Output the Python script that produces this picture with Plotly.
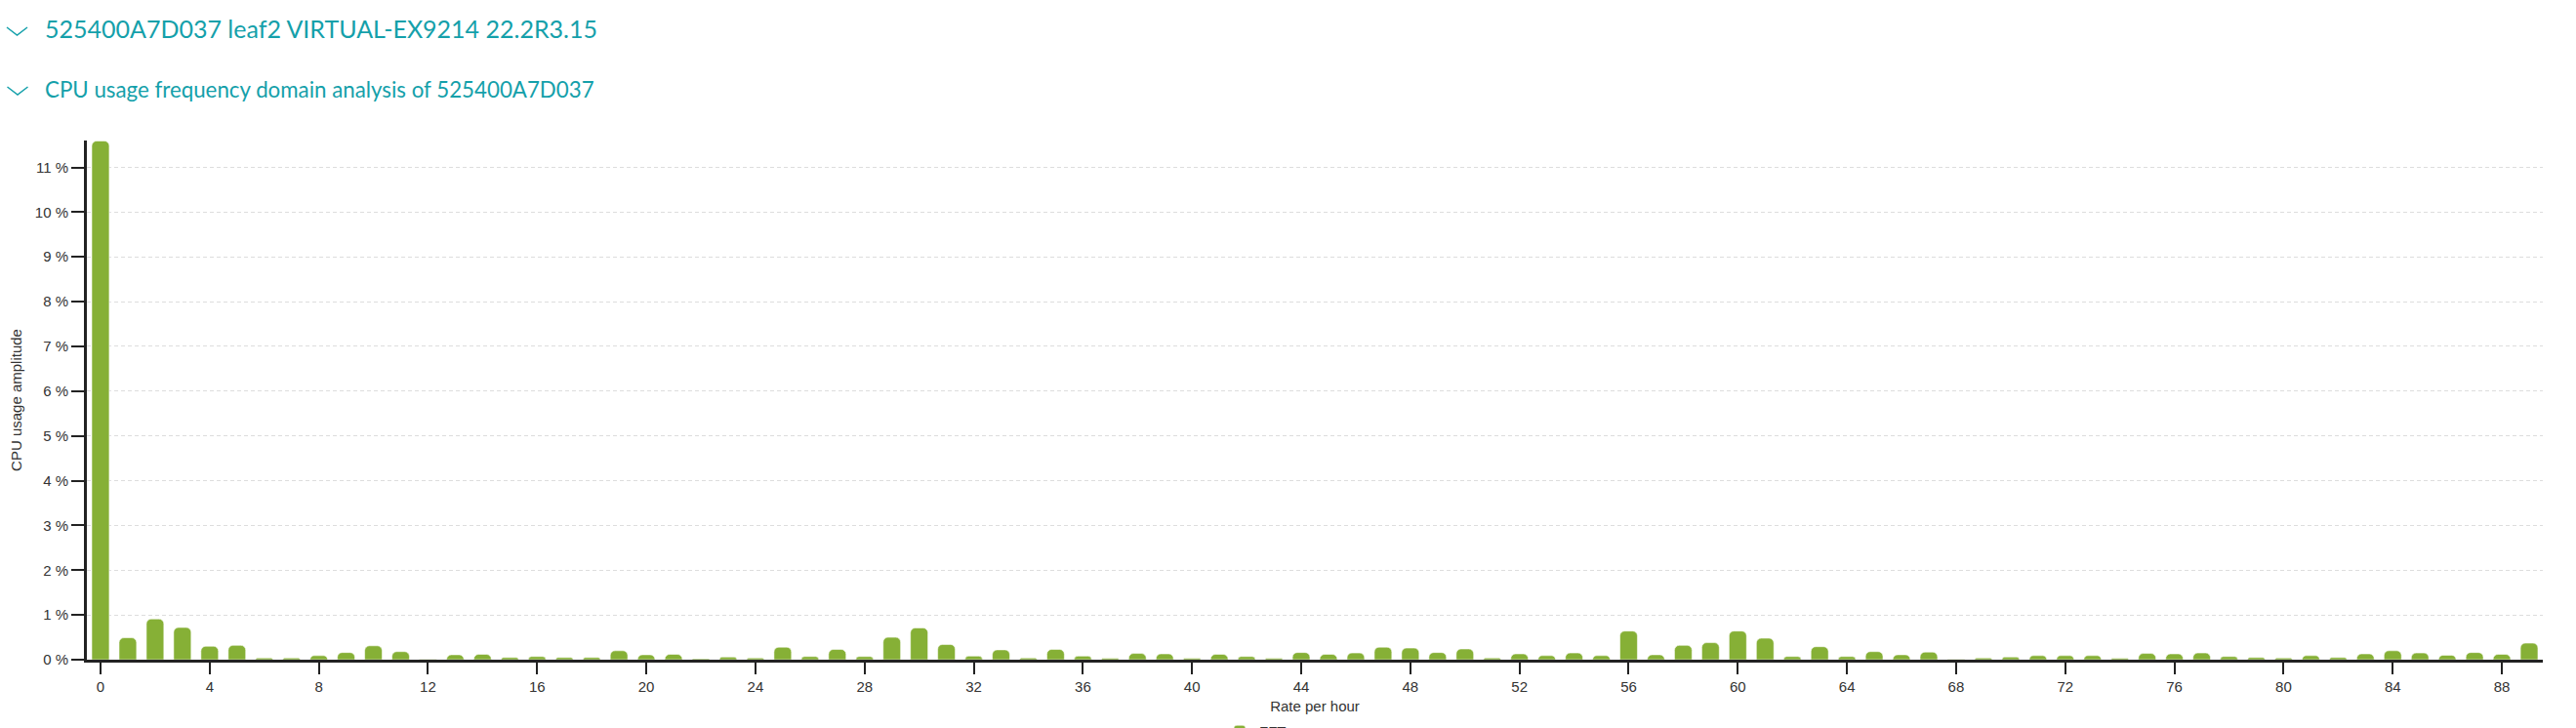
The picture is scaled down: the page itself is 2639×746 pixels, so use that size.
import plotly.graph_objects as go

# ---------------- data ----------------
rate_per_hour = list(range(90))
fft_amplitude = [
    11.59, 0.49, 0.91, 0.72, 0.30, 0.32, 0.04, 0.04, 0.09, 0.16,
    0.31, 0.18, 0.01, 0.11, 0.12, 0.05, 0.07, 0.05, 0.05, 0.20,
    0.11, 0.12, 0.02, 0.06, 0.04, 0.28, 0.07, 0.23, 0.07, 0.50,
    0.71, 0.34, 0.08, 0.22, 0.04, 0.23, 0.08, 0.03, 0.14, 0.13,
    0.03, 0.12, 0.07, 0.03, 0.16, 0.12, 0.15, 0.28, 0.26, 0.16,
    0.24, 0.04, 0.13, 0.09, 0.15, 0.09, 0.64, 0.11, 0.32, 0.38,
    0.64, 0.48, 0.07, 0.29, 0.07, 0.18, 0.11, 0.17, 0.01, 0.04,
    0.06, 0.09, 0.09, 0.09, 0.03, 0.14, 0.13, 0.15, 0.07, 0.05,
    0.04, 0.09, 0.05, 0.13, 0.20, 0.15, 0.10, 0.16, 0.12, 0.37,
]
x_tick_values = list(range(0, 89, 4))
y_tick_values = list(range(0, 12))
y_tick_labels = [f"{v} %" for v in y_tick_values]
series_name = "FFT"
header_title = "525400A7D037 leaf2 VIRTUAL-EX9214 22.2R3.15"
chart_title = "CPU usage frequency domain analysis of 525400A7D037"
x_title = "Rate per hour"
y_title = "CPU usage amplitude"

# ---------------- layout geometry ----------------
W, H = 2639, 746
ML, MR, MT, MB = 89, 34, 144, 70
PW, PH = W - ML - MR, H - MT - MB


def px_x(p):
    return (p - ML) / PW


def px_y(p):
    return (H - MB - p) / PH


TEAL = "#14a0aa"
GREEN = "#86b036"
AXIS_FONT = dict(family="Liberation Sans, Arial, sans-serif", size=15, color="#333333")

fig = go.Figure()
fig.add_trace(go.Bar(
    x=rate_per_hour,
    y=fft_amplitude,
    name=series_name,
    marker=dict(color=GREEN, line=dict(color="rgba(255,255,255,0.55)", width=1), cornerradius=5),
    showlegend=True,
))

# header annotations
annotations = [
    dict(text=header_title, x=px_x(44), y=px_y(29), xref="paper", yref="paper",
         xanchor="left", yanchor="middle", showarrow=False,
         font=dict(family="Lato, sans-serif", size=25, color=TEAL)),
    dict(text=chart_title, x=px_x(44), y=px_y(91), xref="paper", yref="paper",
         xanchor="left", yanchor="middle", showarrow=False,
         font=dict(family="Lato, sans-serif", size=22.3, color=TEAL)),
]


def chevron(cx, cy, w=21, h=8):
    return dict(type="path", xref="paper", yref="paper",
                path=(f"M {px_x(cx - w / 2)},{px_y(cy - h / 2)} "
                      f"L {px_x(cx)},{px_y(cy + h / 2)} "
                      f"L {px_x(cx + w / 2)},{px_y(cy - h / 2)}"),
                line=dict(color=TEAL, width=1.5))


shapes = [chevron(17.5, 32), chevron(18, 93)]

fig.update_layout(
    width=W, height=H,
    margin=dict(l=ML, r=MR, t=MT, b=MB, autoexpand=False),
    paper_bgcolor="white", plot_bgcolor="white",
    bargap=0.36,
    font=AXIS_FONT,
    annotations=annotations,
    shapes=shapes,
    legend=dict(orientation="h", x=px_x(1250), xanchor="left", y=px_y(733), yanchor="top",
                font=AXIS_FONT, itemclick=False),
    xaxis=dict(
        range=[-0.5, 89.5], tickmode="array", tickvals=x_tick_values,
        ticks="outside", ticklen=12, tickwidth=2, tickcolor="#222222",
        showline=True, linecolor="#222222", linewidth=3,
        showgrid=False, zeroline=False,
        tickfont=AXIS_FONT,
        title=dict(text=x_title, font=AXIS_FONT, standoff=8),
    ),
    yaxis=dict(
        range=[0, 11.6], tickmode="array", tickvals=y_tick_values, ticktext=y_tick_labels,
        ticks="outside", ticklen=13, tickwidth=2, tickcolor="#222222",
        showline=True, linecolor="#222222", linewidth=3,
        showgrid=True, gridcolor="#dddddd", gridwidth=1, griddash="4px,3px",
        zeroline=False,
        tickfont=AXIS_FONT,
        title=dict(text=y_title, font=AXIS_FONT, standoff=10),
    ),
)

fig.write_html("out.html", config={"displayModeBar": False},
               post_script="document.body.style.margin='0';document.body.style.overflow='hidden';")
